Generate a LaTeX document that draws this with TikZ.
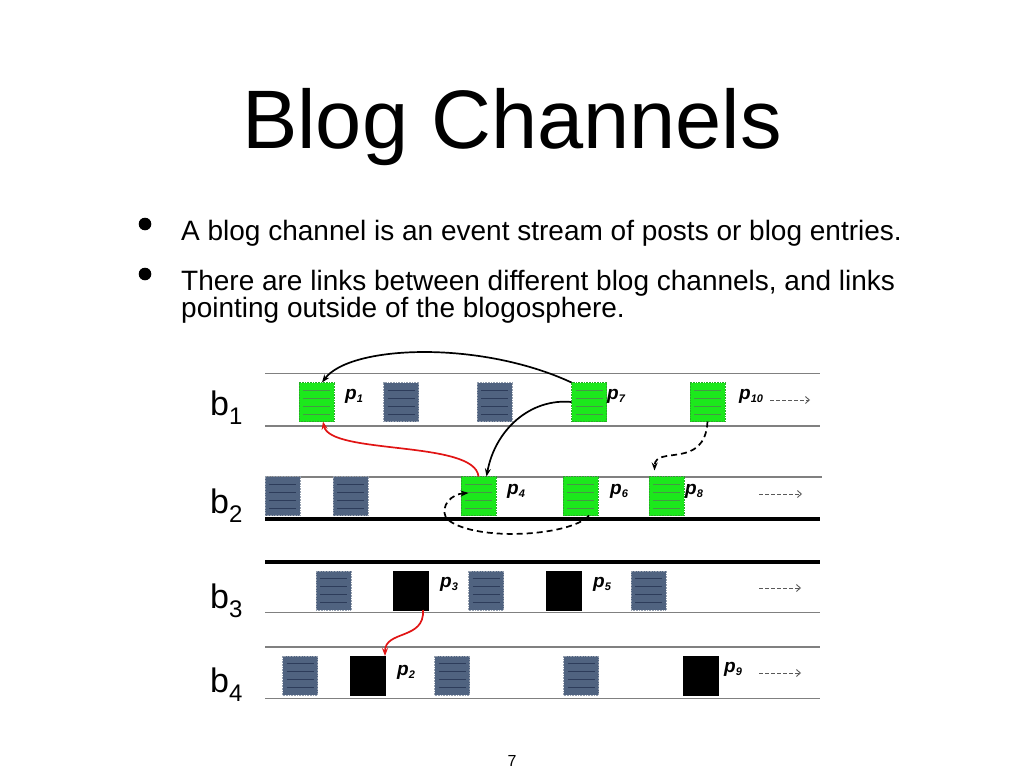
\documentclass[tikz,border=0pt]{standalone}
\usepackage{fontspec}
\setmainfont{Liberation Sans}
\usetikzlibrary{arrows.meta}
\definecolor{pgreen}{RGB}{28,232,28}
\definecolor{pgreenb}{RGB}{40,170,40}
\definecolor{pgreenl}{RGB}{70,150,70}
\definecolor{pgray}{RGB}{80,99,128}
\definecolor{pgrayb}{RGB}{150,160,175}
\definecolor{pgrayl}{RGB}{45,60,90}
\definecolor{rule}{RGB}{128,128,128}
\definecolor{linkred}{RGB}{225,20,20}
\newcommand\plab[1]{p\raisebox{-3.5pt}{\fontsize{11}{11}\selectfont #1}}
\newcommand\blab[1]{b\raisebox{-9pt}{\fontsize{24}{24}\selectfont #1}}
\begin{document}
\begin{tikzpicture}[x=1pt,y=-1pt,
  post/.style={minimum width=35pt,minimum height=39pt,inner sep=0pt,outer sep=0pt},
  innerlines/.style={path picture={\foreach \k in {0,...,3}{\draw[solid,line width=0.4pt,draw=#1]
      ([xshift=4pt,yshift=-7.5pt-\k*8pt]path picture bounding box.north west) --
      ([xshift=-4pt,yshift=-7.5pt-\k*8pt]path picture bounding box.north east);}}},
  greenpost/.style={post,fill=pgreen,draw=pgreenb,densely dotted,line width=0.6pt,innerlines=pgreenl},
  graypost/.style={post,fill=pgray,draw=pgrayb,densely dotted,line width=0.6pt,innerlines=pgrayl},
  blackpost/.style={post,fill=black,draw=black},
  plabel/.style={anchor=base west,inner sep=0pt,font=\fontsize{19}{19}\selectfont\bfseries\itshape},
  blabel/.style={anchor=base west,inner sep=0pt,font=\fontsize{34}{34}\selectfont},
  bullettext/.style={anchor=base west,inner sep=0pt,font=\fontsize{28}{28}\selectfont},
  thinrule/.style={draw=rule,line width=1.8pt},
  thickrule/.style={draw=black,line width=3.3pt},
  link/.style={line width=1.7pt,-{Stealth[length=8pt,width=6pt]}},
  redlink/.style={link,draw=linkred,-{Stealth[length=8pt,width=6pt,fill=linkred]}},
  dlink/.style={link,dash pattern=on 6pt off 4pt},
  future/.style={draw=black!65,line width=0.9pt,dash pattern=on 3.5pt off 2.5pt,-{Straight Barb[length=4pt,width=7pt]}}
]
\useasboundingbox (0,0) rectangle (1024,768);

% title and bullets
\node[anchor=base,inner sep=0pt,font=\fontsize{83}{83}\selectfont] (title) at (512,148) {Blog Channels};
\fill (145,224) circle (6.3pt);
\fill (145,274) circle (6.3pt);
\node[bullettext] (t1) at (181,240) {A blog channel is an event stream of posts or blog entries.};
\node[bullettext] (t2) at (181,290) {There are links between different blog channels, and links};
\node[bullettext] (t3) at (181,317) {pointing outside of the blogosphere.};

% channel rules
\draw[thinrule] (265,373.5) -- (820,373.5);
\draw[thinrule] (265,426) -- (820,426);
\draw[thinrule] (265,477) -- (822,477);
\draw[thickrule] (265,519) -- (820,519);
\draw[thickrule] (265,562) -- (820,562);
\draw[thinrule] (265,612.5) -- (820,612.5);
\draw[thinrule] (265,647) -- (820,647);
\draw[thinrule] (265,698.5) -- (820,698.5);

% channel labels
\node[blabel] (b1) at (210,415) {\blab{1}};
\node[blabel] (b2) at (210,513) {\blab{2}};
\node[blabel] (b3) at (210,608) {\blab{3}};
\node[blabel] (b4) at (210,692) {\blab{4}};

% channel b1
\node[greenpost] (p1) at (316.5,402) {};
\node[graypost]  (g11) at (401,402) {};
\node[graypost]  (g12) at (494.5,402) {};
\node[greenpost] (p7) at (589,402) {};
\node[greenpost] (p10) at (707.5,402) {};
% channel b2
\node[graypost]  (g21) at (282.5,496) {};
\node[graypost]  (g22) at (350.5,496) {};
\node[greenpost] (p4) at (478.5,496) {};
\node[greenpost] (p6) at (580.5,496) {};
\node[greenpost] (p8) at (666.5,496) {};
% channel b3
\node[graypost]  (g31) at (333.5,590.5) {};
\node[blackpost] (p3) at (410.5,590.5) {};
\node[graypost]  (g32) at (486,590.5) {};
\node[blackpost] (p5) at (563.5,590.5) {};
\node[graypost]  (g33) at (648.5,590.5) {};
% channel b4
\node[graypost]  (g41) at (300,675.5) {};
\node[blackpost] (p2) at (367.5,675.5) {};
\node[graypost]  (g42) at (452,675.5) {};
\node[graypost]  (g43) at (581,675.5) {};
\node[blackpost] (p9) at (700.5,675.5) {};

% post labels
\node[plabel] (lp1) at (345,399) {\plab{1}};
\node[plabel] (lp7) at (607,399) {\plab{7}};
\node[plabel] (lp10) at (739,399) {\plab{10}};
\node[plabel] (lp4) at (507,494) {\plab{4}};
\node[plabel] (lp6) at (610,494) {\plab{6}};
\node[plabel] (lp8) at (685,494) {\plab{8}};
\node[plabel] (lp3) at (440,587) {\plab{3}};
\node[plabel] (lp5) at (593,587) {\plab{5}};
\node[plabel] (lp2) at (397,675) {\plab{2}};
\node[plabel] (lp9) at (724,672) {\plab{9}};

% future continuation arrows
\coordinate (f1a) at (770,400); \coordinate (f1b) at (810,400);
\coordinate (f2a) at (759,494); \coordinate (f2b) at (802,494);
\coordinate (f3a) at (759,588); \coordinate (f3b) at (801,588);
\coordinate (f4a) at (759,673); \coordinate (f4b) at (801,673);
\draw[future] (f1a) -- (f1b);
\draw[future] (f2a) -- (f2b);
\draw[future] (f3a) -- (f3b);
\draw[future] (f4a) -- (f4b);

% links
\draw[link] (p7.north west) .. controls (480,340) and (350,345) .. ([xshift=5.5pt]p1.north);
\draw[link] (p7.west) .. controls (530,398) and (495,430) .. ([xshift=8pt]p4.north);
\draw[redlink] (p4.north) .. controls (475,440) and (330,455) .. ([xshift=6.5pt]p1.south);
\draw[dlink] ([xshift=8.5pt]p6.south) .. controls (570,537) and (470,542) .. (446,518) .. controls (440,505) and (452,494) .. ([xshift=-10pt,yshift=3pt]p4.center);
\draw[dlink] (p10.south) .. controls (705,470) and (655,445) .. ([xshift=-12pt,yshift=6pt]p8.north);
\draw[redlink] ([xshift=12.5pt]p3.south) .. controls (425,640) and (385,630) .. (p2.north east);

% page number
\node[anchor=base,inner sep=0pt,font=\fontsize{16}{16}\selectfont] (pg) at (512,766) {7};
\end{tikzpicture}
\end{document}
